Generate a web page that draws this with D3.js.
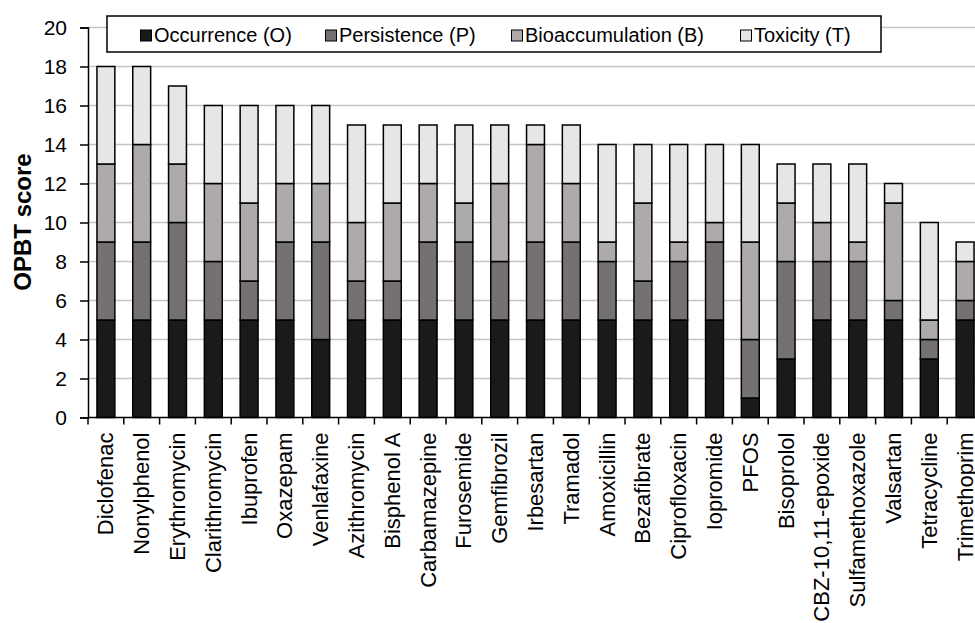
<!DOCTYPE html>
<html>
<head>
<meta charset="utf-8">
<script src="https://cdn.jsdelivr.net/npm/d3@7"></script>
<style>
    body { margin: 0; background: #fff; }
    #chart { width: 975px; height: 623px; overflow: hidden; }
    text { font-family: Arial, "Liberation Sans", sans-serif; }
</style>
</head>
<body>
<div id="chart"></div>
<script>

let substances = ['Diclofenac', 'Nonylphenol', 'Erythromycin', 'Clarithromycin', 'Ibuprofen', 'Oxazepam',
    'Venlafaxine', 'Azithromycin', 'Bisphenol A', 'Carbamazepine', 'Furosemide', 'Gemfibrozil', 'Irbesartan',
    'Tramadol', 'Amoxicillin', 'Bezafibrate', 'Ciprofloxacin', 'Iopromide', 'PFOS', 'Bisoprolol',
    'CBZ-10,11-epoxide', 'Sulfamethoxazole', 'Valsartan', 'Tetracycline', 'Trimethoprim']

let occurrence      = [5, 5, 5, 5, 5, 5, 4, 5, 5, 5, 5, 5, 5, 5, 5, 5, 5, 5, 1, 3, 5, 5, 5, 3, 5]
let persistence     = [4, 4, 5, 3, 2, 4, 5, 2, 2, 4, 4, 3, 4, 4, 3, 2, 3, 4, 3, 5, 3, 3, 1, 1, 1]
let bioaccumulation = [4, 5, 3, 4, 4, 3, 3, 3, 4, 3, 2, 4, 5, 3, 1, 4, 1, 1, 5, 3, 2, 1, 5, 1, 2]
let toxicity        = [5, 4, 4, 4, 5, 4, 4, 5, 4, 3, 4, 3, 1, 3, 5, 3, 5, 4, 5, 2, 3, 4, 1, 5, 1]

let seriesKeys = ['O', 'P', 'B', 'T']
let seriesLabels = ['Occurrence (O)', 'Persistence (P)', 'Bioaccumulation (B)', 'Toxicity (T)']
let yTicks = [0, 2, 4, 6, 8, 10, 12, 14, 16, 18, 20]

class StackedBarVis {

    constructor(parentElement) {
        this.parentElement = parentElement;
        this.colors = {O: '#1a1a1a', P: '#767171', B: '#aeaaaa', T: '#e7e6e6'}

        // one row per substance for d3.stack
        this.data = substances.map((name, i) => ({
            name: name,
            O: occurrence[i],
            P: persistence[i],
            B: bioaccumulation[i],
            T: toxicity[i]
        }))

        this.initVis()
    }

    initVis() {
        let vis = this;

        vis.width = 975;
        vis.height = 623;

        vis.svg = d3.select('#' + vis.parentElement).append('svg')
            .attr('width', vis.width)
            .attr('height', vis.height);

        // plot area (runs past the right edge, like the original)
        vis.left = 88;
        vis.step = 35.8;

        vis.x = d3.scaleBand()
            .domain(substances)
            .range([vis.left, vis.left + vis.step * substances.length])
            .paddingInner(0.5)
            .paddingOuter(0.25);

        vis.y = d3.scaleLinear()
            .domain([0, 20])
            .range([417.5, 27.5]);

        // gridlines
        vis.svg.append('g')
            .selectAll('line')
            .data(yTicks.filter(d => d > 0))
            .enter().append('line')
            .attr('x1', vis.left)
            .attr('x2', vis.width)
            .attr('y1', d => vis.y(d))
            .attr('y2', d => vis.y(d))
            .attr('stroke', '#c4c4c4')
            .attr('stroke-width', 1.5);

        // bars
        let stacked = d3.stack().keys(seriesKeys)(vis.data)

        vis.svg.append('g')
            .selectAll('g')
            .data(stacked)
            .enter().append('g')
            .attr('fill', d => vis.colors[d.key])
            .selectAll('rect')
            .data(d => d)
            .enter().append('rect')
            .attr('x', d => vis.x(d.data.name))
            .attr('width', vis.x.bandwidth())
            .attr('y', d => vis.y(d[1]))
            .attr('height', d => vis.y(d[0]) - vis.y(d[1]))
            .attr('stroke', '#000')
            .attr('stroke-width', 1.5);

        // y axis
        let yAxis = vis.svg.append('g')
            .attr('class', 'axis y-axis')
            .attr('transform', `translate(${vis.left},0)`)
            .call(d3.axisLeft(vis.y).tickValues(yTicks).tickSize(8).tickPadding(13));

        yAxis.selectAll('text')
            .attr('font-size', '21px')
            .attr('fill', '#000');

        // x axis: ticks sit on the category boundaries
        let xAxis = vis.svg.append('g')
            .attr('class', 'axis x-axis')
            .attr('transform', `translate(0,${vis.y(0)})`);

        xAxis.append('line')
            .attr('x1', vis.left)
            .attr('x2', vis.width)
            .attr('stroke', '#000')
            .attr('stroke-width', 1.5);

        xAxis.selectAll('.tick-mark')
            .data(substances)
            .enter().append('line')
            .attr('class', 'tick-mark')
            .attr('x1', d => vis.x(d) - vis.x.step() * 0.25)
            .attr('x2', d => vis.x(d) - vis.x.step() * 0.25)
            .attr('y1', 0)
            .attr('y2', 7)
            .attr('stroke', '#000')
            .attr('stroke-width', 1.5);

        xAxis.selectAll('.label')
            .data(substances)
            .enter().append('text')
            .attr('class', 'label')
            .attr('text-anchor', 'end')
            .attr('font-size', '22px')
            .attr('transform', d => `translate(${vis.x(d) + vis.x.bandwidth() / 2 + 7.5},15) rotate(-90)`)
            .text(d => d);

        yAxis.select('.domain')
            .attr('stroke-width', 1.5);
        yAxis.selectAll('.tick line')
            .attr('stroke-width', 1.5);

        // y title
        vis.svg.append('text')
            .attr('transform', `translate(31,222) rotate(-90)`)
            .attr('text-anchor', 'middle')
            .attr('font-size', '24px')
            .attr('font-weight', 'bold')
            .text('OPBT score');

        // legend
        let legend = vis.svg.append('g').attr('class', 'legend');

        legend.append('rect')
            .attr('x', 107)
            .attr('y', 16)
            .attr('width', 774)
            .attr('height', 36)
            .attr('fill', '#fff')
            .attr('stroke', '#000')
            .attr('stroke-width', 1.5);

        let legendX = [140, 325, 511, 740]

        let items = legend.selectAll('.item')
            .data(seriesKeys)
            .enter().append('g')
            .attr('class', 'item')
            .attr('transform', (d, i) => `translate(${legendX[i]},0)`);

        items.append('rect')
            .attr('x', 0.5)
            .attr('y', 30)
            .attr('width', 11)
            .attr('height', 11)
            .attr('fill', d => vis.colors[d])
            .attr('stroke', '#000')
            .attr('stroke-width', 1);

        items.append('text')
            .attr('x', 14)
            .attr('y', 41.5)
            .attr('font-size', '20px')
            .text((d, i) => seriesLabels[i]);
    }
}

new StackedBarVis('chart')

</script>
</body>
</html>
